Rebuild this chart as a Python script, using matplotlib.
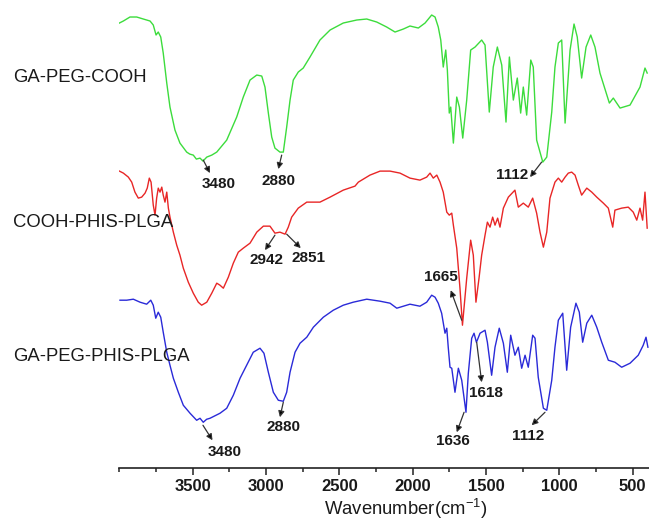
import matplotlib
matplotlib.use("Agg")
import matplotlib.pyplot as plt
import matplotlib.transforms as mtransforms
from matplotlib.ticker import MultipleLocator

plt.rcParams['font.family'] = ['Liberation Sans', 'DejaVu Sans']

# ---------------- data (wavenumber cm^-1, offset transmittance a.u.) ----------------
wn_green = [4000, 3973, 3928, 3882, 3837, 3791, 3769, 3750, 3735, 3718, 3701, 3677, 3655, 3621,
            3587, 3541, 3520, 3496, 3475, 3450, 3430, 3404, 3370, 3336, 3268, 3200, 3155, 3109,
            3063, 3029, 3007, 2984, 2961, 2939, 2905, 2882, 2859, 2836, 2814, 2780, 2746, 2700,
            2632, 2563, 2473, 2381, 2313, 2245, 2177, 2120, 2063, 2018, 1961, 1915, 1870, 1847,
            1825, 1808, 1791, 1774, 1763, 1750, 1740, 1722, 1699, 1681, 1658, 1631, 1604, 1574,
            1529, 1506, 1477, 1450, 1422, 1392, 1363, 1340, 1313, 1286, 1263, 1245, 1222, 1194,
            1177, 1154, 1112, 1085, 1051, 1029, 1006, 983, 960, 926, 899, 877, 847, 817, 785, 756,
            722, 658, 631, 585, 517, 449, 415, 400]
t_green = [445, 447, 451, 451, 449, 447, 443, 433, 436, 431, 415, 385, 361, 338,
           325, 316, 314, 313, 309, 310, 307, 311, 313, 316, 328, 351, 371, 388,
           393, 392, 381, 355, 331, 320, 316, 316, 341, 368, 388, 396, 400, 411,
           428, 438, 445, 448, 449, 446, 441, 436, 439, 442, 440, 445, 453, 451,
           441, 428, 401, 418, 398, 355, 361, 325, 371, 361, 330, 368, 418, 421,
           428, 423, 356, 401, 421, 403, 346, 411, 368, 390, 355, 381, 353, 408,
           401, 328, 306, 311, 356, 401, 425, 428, 345, 418, 444, 431, 390, 421, 433, 421,
           395, 365, 370, 360, 363, 381, 400, 395]

wn_red = [4000, 3973, 3939, 3916, 3894, 3871, 3848, 3825, 3810, 3796, 3784, 3769, 3757, 3746,
          3735, 3723, 3711, 3701, 3689, 3677, 3666, 3655, 3632, 3609, 3587, 3564, 3530, 3496,
          3462, 3439, 3404, 3370, 3336, 3314, 3291, 3257, 3223, 3189, 3155, 3109, 3063, 3018,
          2973, 2939, 2905, 2870, 2848, 2825, 2780, 2722, 2677, 2632, 2563, 2473, 2393, 2370,
          2291, 2222, 2154, 2086, 2018, 1950, 1904, 1881, 1859, 1835, 1813, 1791, 1767, 1750,
          1733, 1722, 1699, 1677, 1660, 1631, 1604, 1586, 1568, 1547, 1529, 1506, 1490, 1472,
          1454, 1438, 1420, 1404, 1381, 1347, 1302, 1279, 1245, 1211, 1181, 1154, 1131, 1108,
          1085, 1063, 1029, 1006, 983, 960, 938, 915, 892, 870, 847, 812, 778, 744, 699, 665,
          635, 620, 574, 529, 495, 471, 449, 431, 415, 400]
t_red = [297, 295, 291, 286, 276, 270, 271, 275, 280, 290, 286, 263, 253, 270,
         280, 276, 281, 273, 266, 276, 260, 251, 236, 223, 213, 200, 186, 175,
         166, 163, 166, 175, 185, 183, 180, 191, 205, 216, 220, 225, 236, 242,
         242, 235, 236, 234, 241, 251, 260, 266, 266, 266, 271, 278, 282, 286,
         293, 297, 297, 295, 290, 288, 291, 295, 290, 293, 286, 276, 256, 253,
         255, 243, 220, 180, 143, 190, 228, 213, 166, 190, 213, 233, 246, 241,
         251, 243, 250, 241, 260, 271, 278, 261, 265, 261, 270, 255, 236, 221,
         236, 270, 286, 290, 286, 291, 295, 296, 293, 283, 273, 280, 276, 271, 265, 260,
         241, 258, 260, 261, 256, 248, 260, 248, 276, 240]

wn_blue = [3996, 3950, 3905, 3859, 3814, 3786, 3769, 3752, 3735, 3718, 3701, 3677, 3655, 3632,
           3598, 3564, 3518, 3473, 3450, 3428, 3405, 3382, 3314, 3268, 3223, 3177, 3132, 3087,
           3041, 3014, 2984, 2950, 2916, 2882, 2859, 2836, 2802, 2768, 2722, 2677, 2609, 2541,
           2473, 2405, 2313, 2222, 2154, 2108, 2063, 2018, 1950, 1904, 1870, 1847, 1825, 1802,
           1779, 1767, 1757, 1745, 1733, 1711, 1688, 1665, 1636, 1620, 1597, 1581, 1565, 1559,
           1540, 1506, 1490, 1461, 1438, 1409, 1381, 1354, 1331, 1302, 1279, 1256, 1233, 1211,
           1181, 1165, 1143, 1108, 1085, 1051, 1029, 1006, 976, 949, 922, 886, 863, 840, 812,
           778, 744, 710, 665, 620, 574, 517, 461, 427, 408, 395]
t_blue = [168, 168, 169, 166, 164, 168, 163, 150, 156, 151, 136, 116, 103, 90,
          76, 63, 55, 48, 50, 46, 49, 50, 55, 60, 73, 90, 103, 116,
          120, 115, 96, 76, 68, 67, 76, 96, 116, 125, 131, 141, 151, 158,
          163, 166, 169, 167, 165, 160, 162, 164, 162, 166, 173, 171, 165, 155,
          135, 140, 121, 101, 100, 76, 100, 88, 56, 95, 130, 135, 126, 128,
          135, 138, 126, 93, 121, 140, 125, 96, 133, 113, 121, 100, 113, 101,
          133, 130, 91, 60, 58, 88, 121, 148, 155, 98, 141, 165, 156, 126, 145,
          153, 141, 126, 108, 106, 101, 105, 113, 123, 131, 121]

series_names = ['GA-PEG-COOH', 'COOH-PHIS-PLGA', 'GA-PEG-PHIS-PLGA']
series_label_t = [391, 246, 112]
series_colors = ['#3cdc3c', '#e82626', '#2a2ad8']

# annotations: label, arrow tail (on spectrum), arrow head, text centre
ann_labels = ['3480', '2880', '2942', '2851', '1112', '1665', '1618', '1636', '1112', '2880', '3480']
ann_tail = [(3428, 308), (2893, 313), (2939, 233), (2859, 234), (1120, 306), (1665, 148),
            (1563, 126), (1649, 56), (1097, 56), (2882, 66), (3430, 43)]
ann_head = [(3382, 295), (2916, 299), (3007, 218), (2763, 220), (1199, 291), (1740, 178),
            (1529, 86), (1699, 36), (1188, 43), (2905, 51), (3365, 28)]
ann_text = [(3322, 284), (2913, 287.5), (2995, 208), (2707, 210.5), (1319, 293), (1804, 191),
            (1501, 75), (1722, 27), (1211, 32), (2884, 41), (3284, 16)]

# ---------------- figure ----------------
fig = plt.figure(figsize=(6.49, 5.21), dpi=100)
ax = fig.add_axes([119.4 / 649, (521 - 468.3) / 521, 1 - 119.4 / 649, 468.3 / 521])

for wn, t, c in zip([wn_green, wn_red, wn_blue], [t_green, t_red, t_blue], series_colors):
    ax.plot(wn, t, color=c, lw=1.0, solid_joinstyle='round')

ax.set_xlim(4000, 387.6)
ax.set_ylim(0, 468)

for s in ['left', 'right', 'top']:
    ax.spines[s].set_visible(False)
ax.spines['bottom'].set_linewidth(1.2)
ax.spines['bottom'].set_color('#222222')
ax.set_yticks([])
ax.xaxis.set_major_locator(MultipleLocator(500))
ax.xaxis.set_minor_locator(MultipleLocator(250))
ax.set_xticks([3500, 3000, 2500, 2000, 1500, 1000, 500])
ax.tick_params(axis='x', which='major', direction='out', length=5, width=1.1,
               color='#222222', pad=3, labelsize=12)
ax.tick_params(axis='x', which='minor', direction='out', length=3, width=1.1, color='#222222')
for lab in ax.get_xticklabels():
    lab.set_fontweight('bold')
    lab.set_color('#1a1a1a')

ax.set_xlabel('Wavenumber(cm$^{\\mathregular{-1}}$)', fontsize=13.3, color='#1a1a1a')
ax.xaxis.set_label_coords((406 - 119.4) / 529.6, -0.062)

blend = mtransforms.blended_transform_factory(fig.transFigure, ax.transData)
for name, ty in zip(series_names, series_label_t):
    ax.text(13 / 649, ty, name, transform=blend, fontsize=13.3, ha='left', va='center',
            color='#1a1a1a', clip_on=False)

for lab, tail, head, txt in zip(ann_labels, ann_tail, ann_head, ann_text):
    ax.annotate('', xy=head, xytext=tail,
                arrowprops=dict(arrowstyle='-|>', color='#555555', lw=0.9,
                                mutation_scale=9, shrinkA=0, shrinkB=0, fc='black', ec='#333333'))
    ax.text(txt[0], txt[1], lab, fontsize=11, fontweight='bold', ha='center', va='center',
            color='#1a1a1a')

fig.savefig('out.png', dpi=100)
